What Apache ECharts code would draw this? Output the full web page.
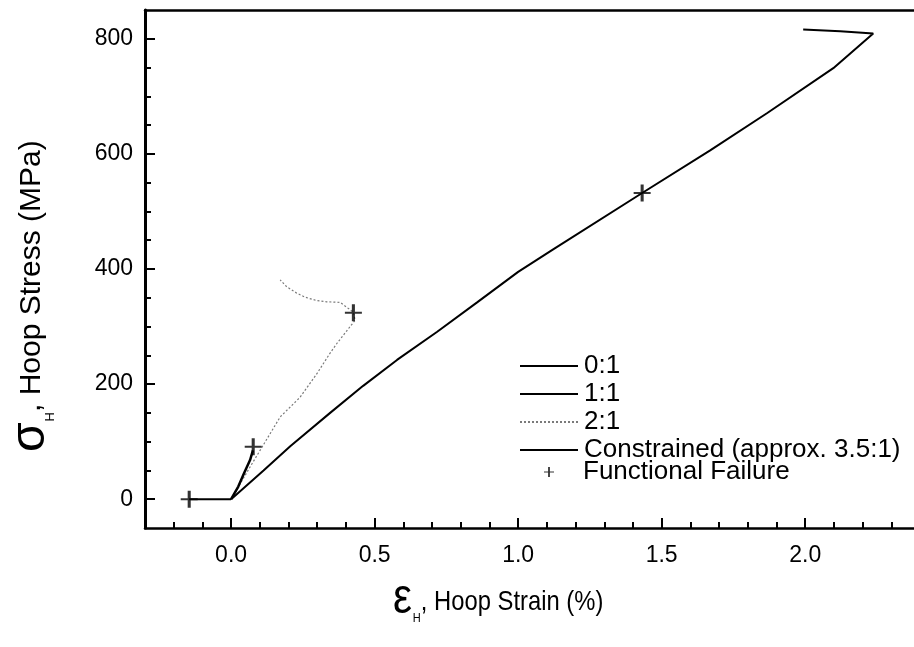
<!DOCTYPE html>
<html>
<head>
<meta charset="utf-8">
<script src="https://cdn.jsdelivr.net/npm/echarts@6/dist/echarts.min.js"></script>
<style>
  html, body { margin: 0; padding: 0; background: #fff; }
  #chart { width: 914px; height: 647px; }
</style>
</head>
<body>
<div id="chart"></div>
<script>
// Hoop stress vs hoop strain for several stress ratios (hoop:axial)
const strain01 = [0, -0.146];
const stress01 = [0, 0];

const strain11 = [0, 0.025, 0.045, 0.066, 0.076];
const stress11 = [0, 22, 45, 68, 85];

const strain21 = [0, 0.066, 0.171, 0.240, 0.300, 0.345, 0.369, 0.432, 0.426, 0.380, 0.333, 0.299, 0.258, 0.229, 0.194, 0.171];
const stress21 = [0, 56, 143, 177, 219, 254, 271, 311, 325, 342, 343, 345, 351, 358, 369, 381];

const strainConstrained = [0, 0.113, 0.206, 0.345, 0.460, 0.578, 0.718, 0.857, 1.0, 1.122, 1.432, 1.669, 1.868, 2.098, 2.237, 2.122, 1.993];
const stressConstrained = [0, 50, 92, 150, 197, 242, 291, 342, 395, 434, 532, 606, 671, 749, 809, 813, 816];

// Functional failure points
const failureStrain = [-0.146, 0.077, 0.426, 1.432];
const failureStress = [0, 91, 324, 532];

const xMajorTicks = [0, 0.5, 1.0, 1.5, 2.0];
const xMinorTicks = [-0.2, -0.1, 0.1, 0.2, 0.3, 0.4, 0.6, 0.7, 0.8, 0.9, 1.1, 1.2, 1.3, 1.4, 1.6, 1.7, 1.8, 1.9, 2.1, 2.2, 2.3];
const yMajorTicks = [0, 200, 400, 600, 800];
const yMinorTicks = [50, 100, 150, 250, 300, 350, 450, 500, 550, 650, 700, 750];

const seriesNames = ['0:1', '1:1', '2:1', 'Constrained (approx. 3.5:1)'];
const failureName = 'Functional Failure';

const FONT = '"Liberation Sans", Arial, Helvetica, sans-serif';
const PLUS = 'path://M4.1,0H5.9V4.4H10V5.6H5.9V10H4.1V5.6H0V4.4H4.1Z';

const zip = (xs, ys) => xs.map((x, i) => [x, ys[i]]);

const chart = echarts.init(document.getElementById('chart'), null, { renderer: 'canvas' });

// text measurement for the composed axis titles
const mctx = document.createElement('canvas').getContext('2d');
function textWidth(text, size) {
  mctx.font = size + 'px ' + FONT;
  return mctx.measureText(text).width;
}
function titlePieces(pieces) {
  let x = 0;
  return pieces.map(p => {
    const el = {
      type: 'text',
      x: x,
      y: p.dy,
      style: { text: p.text, font: p.size + 'px ' + FONT, fill: '#000', align: 'left', verticalAlign: 'bottom' }
    };
    x += textWidth(p.text, p.size) + (p.gap || 0);
    return el;
  });
}

const yTitle = titlePieces([
  { text: 'σ', size: 48, dy: 8, gap: 1 },
  { text: 'H', size: 13, dy: 10, gap: 0 },
  { text: ', Hoop Stress (MPa)', size: 30, dy: 0 }
]);
const xTitle = titlePieces([
  { text: 'ε', size: 50, dy: 8, gap: 1 },
  { text: 'H', size: 13, dy: 9, gap: 0 },
  { text: ', Hoop Strain (%)', size: 28, dy: 0 }
]);

const axisLineStyle = { color: '#000', width: 2.5 };

function baseX(extra) {
  return Object.assign({
    type: 'value', min: -0.3, max: 2.4, gridIndex: 0,
    splitLine: { show: false }
  }, extra);
}
function baseY(extra) {
  return Object.assign({
    type: 'value', min: -50, max: 850, gridIndex: 0,
    splitLine: { show: false }
  }, extra);
}

const legendText = { fontSize: 26, lineHeight: 26, color: '#000', fontFamily: FONT };

const option = {
  animation: false,
  backgroundColor: '#fff',
  grid: { left: 145, right: -6, top: 10, bottom: 119, containLabel: false, outerBoundsMode: 'none' },
  xAxis: [
    baseX({
      position: 'bottom',
      axisLine: { show: true, onZero: false, lineStyle: axisLineStyle },
      axisTick: { show: true, inside: true, length: 10, lineStyle: { color: '#000', width: 2 }, customValues: xMajorTicks },
      axisLabel: { show: true, customValues: xMajorTicks, margin: 16, color: '#000', fontSize: 23, fontFamily: FONT,
        formatter: v => v.toFixed(1) }
    }),
    baseX({
      position: 'bottom',
      axisLine: { show: false, onZero: false },
      axisTick: { show: true, inside: true, length: 6, lineStyle: { color: '#000', width: 2 }, customValues: xMinorTicks },
      axisLabel: { show: false }
    }),
    baseX({
      position: 'top',
      axisLine: { show: true, onZero: false, lineStyle: axisLineStyle },
      axisTick: { show: false },
      axisLabel: { show: false }
    })
  ],
  yAxis: [
    baseY({
      position: 'left',
      axisLine: { show: true, onZero: false, lineStyle: { color: '#000', width: 3 } },
      axisTick: { show: true, inside: true, length: 10, lineStyle: { color: '#000', width: 2 }, customValues: yMajorTicks },
      axisLabel: { show: true, customValues: yMajorTicks, margin: 12, color: '#000', fontSize: 23, fontFamily: FONT }
    }),
    baseY({
      position: 'left',
      axisLine: { show: false, onZero: false },
      axisTick: { show: true, inside: true, length: 6, lineStyle: { color: '#000', width: 2 }, customValues: yMinorTicks },
      axisLabel: { show: false }
    })
  ],
  legend: [
    {
      orient: 'vertical',
      left: 519, top: 353, padding: 0,
      itemWidth: 58, itemHeight: 12, itemGap: 2,
      itemStyle: { opacity: 0 },
      textStyle: Object.assign({ padding: [0, 0, 0, 1] }, legendText),
      data: seriesNames,
      selectedMode: false
    },
    {
      orient: 'vertical',
      left: 544, top: 459, padding: 0,
      itemWidth: 10, itemHeight: 10,
      textStyle: Object.assign({ padding: [0, 0, 0, 24] }, legendText),
      data: [failureName],
      selectedMode: false
    }
  ],
  series: [
    {
      name: seriesNames[0], type: 'line', data: zip(strain01, stress01),
      symbol: 'none', color: '#000', lineStyle: { color: '#000', width: 2 }, z: 3
    },
    {
      name: seriesNames[1], type: 'line', data: zip(strain11, stress11),
      symbol: 'none', color: '#000', lineStyle: { color: '#000', width: 2.5 }, z: 3
    },
    {
      name: seriesNames[2], type: 'line', data: zip(strain21, stress21),
      symbol: 'none', color: '#7a7a7a', lineStyle: { color: '#7a7a7a', width: 1.2, type: [2, 2] }, z: 2
    },
    {
      name: seriesNames[3], type: 'line', data: zip(strainConstrained, stressConstrained),
      symbol: 'none', color: '#000', lineStyle: { color: '#000', width: 2 }, z: 3
    },
    {
      name: failureName, type: 'scatter', data: zip(failureStrain, failureStress),
      symbol: PLUS, symbolSize: 17, itemStyle: { color: '#000' }, z: 4
    }
  ],
  graphic: [
    { type: 'group', x: 47, y: 452, rotation: Math.PI / 2, children: yTitle },
    { type: 'group', x: 393, y: 616, scaleX: 0.85, children: xTitle }
  ]
};

chart.setOption(option);
</script>
</body>
</html>
